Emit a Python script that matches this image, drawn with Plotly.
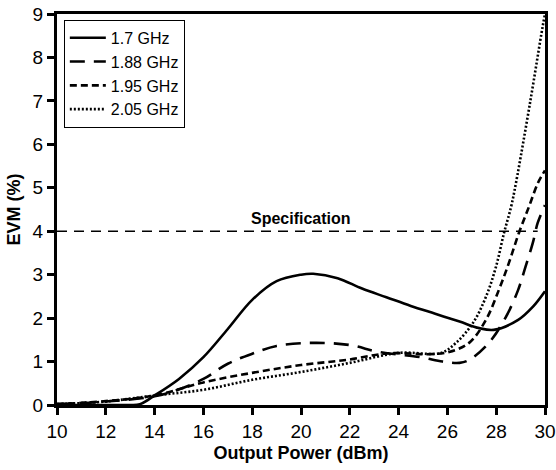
import plotly.graph_objects as go

# ---- data ----
x_17 = [10, 12, 13, 13.4, 14, 15, 16, 17, 18, 19, 20, 20.5, 21.5, 22.5, 23.5, 24.5, 25.5, 26.5, 27.3, 27.9, 28.9, 29.5, 30]
y_17 = [0, 0, 0, 0.02, 0.22, 0.6, 1.1, 1.75, 2.42, 2.85, 3.0, 3.02, 2.92, 2.68, 2.48, 2.28, 2.1, 1.92, 1.77, 1.73, 1.96, 2.26, 2.62]

x_188 = [10, 12, 14, 15, 16, 17, 18, 19, 20.5, 22, 23.2, 24.9, 25.8, 26.5, 26.9, 27.7, 28.4, 28.9, 29.2, 29.5, 29.7, 30]
y_188 = [0.02, 0.08, 0.2, 0.36, 0.6, 0.95, 1.18, 1.36, 1.43, 1.38, 1.22, 1.1, 1.0, 0.97, 1.04, 1.43, 2.03, 2.65, 3.18, 3.73, 4.19, 4.6]

x_195 = [10, 12, 14, 16, 18, 20, 21.9, 23.6, 25.3, 26.07, 26.89, 27.58, 28.11, 28.52, 28.93, 29.34, 29.71, 30]
y_195 = [0.02, 0.09, 0.22, 0.52, 0.74, 0.92, 1.04, 1.19, 1.17, 1.22, 1.43, 1.96, 2.65, 3.27, 3.96, 4.56, 5.11, 5.4]

x_205 = [10, 12, 14, 16, 18, 20, 22, 24, 25.74, 26.35, 27.05, 27.58, 27.99, 28.32, 28.61, 28.81, 29.4, 29.9, 30]
y_205 = [0.02, 0.08, 0.22, 0.35, 0.58, 0.76, 0.97, 1.2, 1.2, 1.43, 1.89, 2.49, 3.18, 3.96, 4.56, 5.11, 7.0, 8.7, 9.0]

spec_x = [10, 29.7]
spec_y = [4, 4]
spec_label = "Specification"
spec_label_pos = (20.0, 4.3)

x_ticks = list(range(10, 31, 2))
y_ticks = list(range(0, 10))

series = [
    ("1.7 GHz", x_17, y_17, "solid"),
    ("1.88 GHz", x_188, y_188, "15px,9px"),
    ("1.95 GHz", x_195, y_195, "7px,4px"),
    ("2.05 GHz", x_205, y_205, "2px,2px"),
]

FONT = "Liberation Sans, Arial, sans-serif"

fig = go.Figure()
for name, xs, ys, dash in series:
    fig.add_trace(go.Scatter(
        x=xs, y=ys, name=name, mode="lines",
        line=dict(color="black", width=2.6, dash=dash, shape="spline", smoothing=1.0),
    ))

fig.add_trace(go.Scatter(
    x=spec_x, y=spec_y, mode="lines", showlegend=False,
    line=dict(color="black", width=1.5, dash="10px,7px"),
))

fig.add_annotation(x=spec_label_pos[0], y=spec_label_pos[1], text="<b>" + spec_label + "</b>",
                   showarrow=False,
                   font=dict(family=FONT, size=16, color="black"))

fig.update_layout(
    width=556, height=470,
    margin=dict(l=57, r=11, t=14, b=65),
    paper_bgcolor="white", plot_bgcolor="white",
    showlegend=True,
    legend=dict(
        x=0.014, y=0.985, xanchor="left", yanchor="top",
        bordercolor="black", borderwidth=1, bgcolor="white",
        font=dict(family=FONT, size=16, color="black"),
        itemwidth=36, tracegroupgap=0,
    ),
    xaxis=dict(
        range=[10, 30], tickmode="array", tickvals=x_ticks,
        ticks="outside", ticklen=7, tickwidth=2.5, tickcolor="black",
        showline=True, linewidth=3, linecolor="black", mirror=True,
        showgrid=False, zeroline=False, automargin=False,
        ticklabeloverflow="allow",
        tickfont=dict(family=FONT, size=19, color="black"),
        title=dict(text="<b>Output Power (dBm)</b>", standoff=6,
                   font=dict(family=FONT, size=18, color="black")),
    ),
    yaxis=dict(
        range=[0, 9], tickmode="array", tickvals=y_ticks,
        ticks="outside", ticklen=7, tickwidth=2.5, tickcolor="black",
        showline=True, linewidth=3, linecolor="black", mirror=True,
        showgrid=False, zeroline=False, automargin=False,
        ticklabeloverflow="allow",
        tickfont=dict(family=FONT, size=19, color="black"),
        title=dict(text="<b>EVM (%)</b>", standoff=8,
                   font=dict(family=FONT, size=18, color="black")),
    ),
)

fig.write_html("out.html", config={"displayModeBar": False},
               post_script="document.body.style.margin='0';")
